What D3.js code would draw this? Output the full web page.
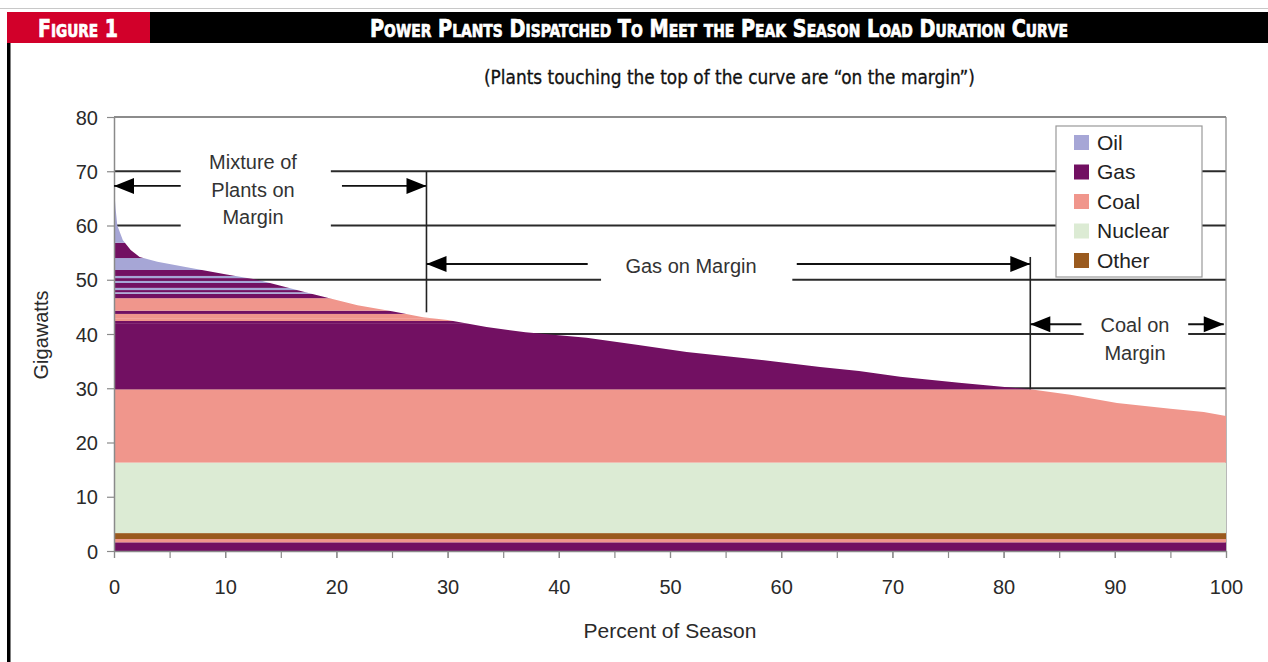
<!DOCTYPE html>
<html><head><meta charset="utf-8">
<script src="https://cdn.jsdelivr.net/npm/d3@7"></script>
<style>
html,body{margin:0;padding:0;background:#fff;}
svg{display:block;}
</style></head>
<body>
<svg id="chart" width="1268" height="662"></svg>
<script>
// ---- data ----
const loadX  = [0, 0.15, 0.3, 0.8, 1.5, 2.3, 3.9, 6.8, 10, 12.9, 17.4, 21.9, 25, 27.8, 30, 33.5, 37, 42.5, 47, 51.5, 57, 63.5, 67, 70.7, 76, 82.4, 86, 90.2, 95, 98, 100];
const loadGW = [67, 63, 60, 57.3, 55.5, 54.2, 53.3, 52.2, 51, 50, 47.6, 45.3, 44.2, 43.1, 42.6, 41.3, 40.3, 39.3, 38, 36.7, 35.5, 33.9, 33.2, 32.1, 31, 29.8, 28.8, 27.3, 26.2, 25.6, 24.9];

const bandBase = [0, 1.6, 2.2, 3.3, 16.3, 29.8, 42.0, 42.4, 42.8, 43.7, 44.3, 46.6, 47.4, 47.7, 48.1, 48.5, 49.4, 49.8, 50.3, 50.7, 51.8, 54.0, 56.8];
const bandTop  = [1.6, 2.2, 3.3, 16.3, 29.8, 42.0, 42.4, 42.8, 43.7, 44.3, 46.6, 47.4, 47.7, 48.1, 48.5, 49.4, 49.8, 50.3, 50.7, 51.8, 54.0, 56.8, 80];
const bandFuel = ["Gas","Coal","Other","Nuclear","Coal","Gas","Gas","Coal","Coal","Gas","Coal","Gas","Oil","Gas","Oil","Gas","Oil","Gas","Oil","Gas","Oil","Gas","Oil"];

const fuels  = ["Oil", "Gas", "Coal", "Nuclear", "Other"];
const colors = ["#a6a6d6", "#721062", "#f0968c", "#dcebd4", "#9a5a1e"];

const yTicks = [0, 10, 20, 30, 40, 50, 60, 70, 80];
const xTicks = [0, 10, 20, 30, 40, 50, 60, 70, 80, 90, 100];
const xMinor = [0,5,10,15,20,25,30,35,40,45,50,55,60,65,70,75,80,85,90,95,100];
const gridVals = [10, 20, 30, 40, 50, 60, 70];

// annotations (data coordinates)
const marginSplits = [28.1, 82.4];

// ---- drawing ----
const svg = d3.select("#chart");
const color = d3.scaleOrdinal().domain(fuels).range(colors);
const x = d3.scaleLinear().domain([0, 100]).range([114, 1226]);
const y = d3.scaleLinear().domain([0, 80]).range([551, 117]);
const FONT = "'Liberation Sans', Arial, sans-serif";
const NARROW = "'Liberation Sans Narrow', 'DejaVu Sans Condensed', 'Liberation Sans', sans-serif";

// header
svg.append("line").attr("x1",0).attr("x2",1268).attr("y1",8.5).attr("y2",8.5).attr("stroke","#c8c8c8").attr("stroke-width",1);
svg.append("rect").attr("x",7).attr("y",12).attr("width",143).attr("height",31).attr("fill","#d2002a");
svg.append("rect").attr("x",150).attr("y",12).attr("width",1118).attr("height",31).attr("fill","#000");
svg.append("rect").attr("x",7).attr("y",43).attr("width",3.5).attr("height",619).attr("fill","#000");

svg.append("text").attr("x",38).attr("y",37).attr("fill","#fff").attr("stroke","#fff").attr("stroke-width",0.7)
  .attr("font-family",NARROW).attr("font-weight","bold").attr("font-size",25)
  .style("font-variant","small-caps")
  .attr("textLength",80).attr("lengthAdjust","spacingAndGlyphs")
  .text("Figure 1");
svg.append("text").attr("x",370).attr("y",37).attr("fill","#fff").attr("stroke","#fff").attr("stroke-width",0.7)
  .attr("font-family",NARROW).attr("font-weight","bold").attr("font-size",25)
  .style("font-variant","small-caps")
  .attr("textLength",698).attr("lengthAdjust","spacingAndGlyphs")
  .text("Power Plants Dispatched To Meet the Peak Season Load Duration Curve");
svg.append("text").attr("x",484).attr("y",84).attr("fill","#111").attr("stroke","#111").attr("stroke-width",0.3)
  .attr("font-family",NARROW).attr("font-size",19)
  .attr("textLength",491).attr("lengthAdjust","spacingAndGlyphs")
  .text("(Plants touching the top of the curve are \u201Con the margin\u201D)");

// gridlines
svg.append("g").selectAll("line").data(gridVals).join("line")
  .attr("x1",x(0)).attr("x2",x(100)).attr("y1",d=>y(d)).attr("y2",d=>y(d))
  .attr("stroke","#2a2a2a").attr("stroke-width",1.8);
// plot frame top & right
svg.append("line").attr("x1",x(0)).attr("x2",x(100)).attr("y1",y(80)).attr("y2",y(80)).attr("stroke","#666").attr("stroke-width",1.6);
svg.append("line").attr("x1",x(100)).attr("x2",x(100)).attr("y1",y(80)).attr("y2",y(0)).attr("stroke","#888").attr("stroke-width",1.2);

// clip to load curve
const pts = loadX.map((v,i)=>[v, loadGW[i]]);
const area = d3.area().x(d=>x(d[0])).y0(y(0)).y1(d=>y(d[1]));
svg.append("clipPath").attr("id","loadClip").append("path").attr("d", area(pts));

const bands = bandBase.map((b,i)=>({b, t: bandTop[i], f: bandFuel[i]}));
svg.append("g").attr("clip-path","url(#loadClip)")
  .selectAll("rect").data(bands).join("rect")
  .attr("x", x(0)).attr("width", x(100)-x(0))
  .attr("y", d=>y(d.t)).attr("height", d=>y(d.b)-y(d.t))
  .attr("fill", d=>color(d.f));

// axes
const gy = svg.append("g").attr("transform",`translate(${x(0)},0)`)
  .call(d3.axisLeft(y).tickValues(yTicks).tickSize(7).tickSizeOuter(0).tickPadding(9));
const gxMinor = svg.append("g").attr("transform",`translate(0,${y(0)})`)
  .call(d3.axisBottom(x).tickValues(xMinor).tickSize(7).tickSizeOuter(0).tickFormat(""));
const gx = svg.append("g").attr("transform",`translate(0,${y(0)})`)
  .call(d3.axisBottom(x).tickValues(xTicks).tickSize(7).tickSizeOuter(0).tickPadding(22));
[gy,gx,gxMinor].forEach(g=>{
  g.selectAll(".domain").attr("stroke","#8a8a8a").attr("stroke-width",1.5);
  g.selectAll(".tick line").attr("stroke","#8a8a8a").attr("stroke-width",1.2);
  g.selectAll("text").attr("font-family",FONT).attr("font-size",20).attr("fill","#2a2a2a");
});
gx.select(".domain").remove();
gy.selectAll("text").attr("dy","0.36em");

svg.append("text").attr("transform","translate(48,335) rotate(-90)").attr("text-anchor","middle")
  .attr("font-family",FONT).attr("font-size",20).attr("fill","#2a2a2a").text("Gigawatts");
svg.append("text").attr("x",670).attr("y",638).attr("text-anchor","middle")
  .attr("font-family",FONT).attr("font-size",21).attr("fill","#2a2a2a").text("Percent of Season");

// annotations
const ann = svg.append("g");
function whiteBox(x0,y0,x1,y1){ ann.append("rect").attr("x",x0).attr("y",y0).attr("width",x1-x0).attr("height",y1-y0).attr("fill","#fff"); }
function hline(d0,d1,v){ ann.append("line").attr("x1",x(d0)).attr("x2",x(d1)).attr("y1",y(v)).attr("y2",y(v)).attr("stroke","#111").attr("stroke-width",1.8); }
function vline(d,v0,v1){ ann.append("line").attr("x1",x(d)).attr("x2",x(d)).attr("y1",y(v0)).attr("y2",y(v1)).attr("stroke","#222").attr("stroke-width",1.6); }
function head(d,v,dir){ // dir -1 left, +1 right; tip at (d,v)
  const px=x(d), py=y(v), L=20, H=8;
  ann.append("path").attr("d",`M${px},${py} L${px-dir*L},${py-H} L${px-dir*L},${py+H} Z`).attr("fill","#000");
}
function label(lines, cx, cy0, lh){
  lines.forEach((s,i)=>ann.append("text").attr("x",cx).attr("y",cy0+i*lh).attr("text-anchor","middle")
    .attr("font-family",FONT).attr("font-size",20).attr("fill","#333").text(s));
}
// Mixture of plants on margin
whiteBox(x(6.0), y(72.5), x(19.5), y(57.5));
label(["Mixture of","Plants on","Margin"], 253, 169, 27.5);
hline(0, 6.0, 67.3); hline(20.5, marginSplits[0], 67.3);
head(0,67.3,-1); head(marginSplits[0],67.3,1);
vline(marginSplits[0], 70, 44);
// Gas on margin
whiteBox(x(43.8), y(55.8), x(61.0), y(48.5));
label(["Gas on Margin"], 691, 273, 0);
hline(marginSplits[0], 42.6, 52.9); hline(61.4, marginSplits[1], 52.9);
head(marginSplits[0],52.9,-1); head(marginSplits[1],52.9,1);
vline(marginSplits[1], 54.2, 29.8);
// Coal on margin
whiteBox(x(87.2), y(44.2), x(96.6), y(35.5));
label(["Coal on","Margin"], 1135, 332, 27.5);
hline(marginSplits[1], 87.0, 41.8); hline(96.6, 99.8, 41.8);
head(marginSplits[1],41.8,-1); head(99.8,41.8,1);

// legend
const lg = svg.append("g").attr("transform","translate(1056,126)");
lg.append("rect").attr("width",146).attr("height",151).attr("fill","#fff").attr("stroke","#999").attr("stroke-width",1.2);
const li = lg.selectAll("g").data(fuels).join("g").attr("transform",(d,i)=>`translate(0,${16+i*29.5})`);
li.append("rect").attr("x",18).attr("y",-7).attr("width",15).attr("height",15).attr("fill",d=>color(d));
li.append("text").attr("x",41).attr("y",0).attr("dy","0.36em").attr("font-family",FONT).attr("font-size",21).attr("fill","#222").text(d=>d);
</script>
</body></html>
